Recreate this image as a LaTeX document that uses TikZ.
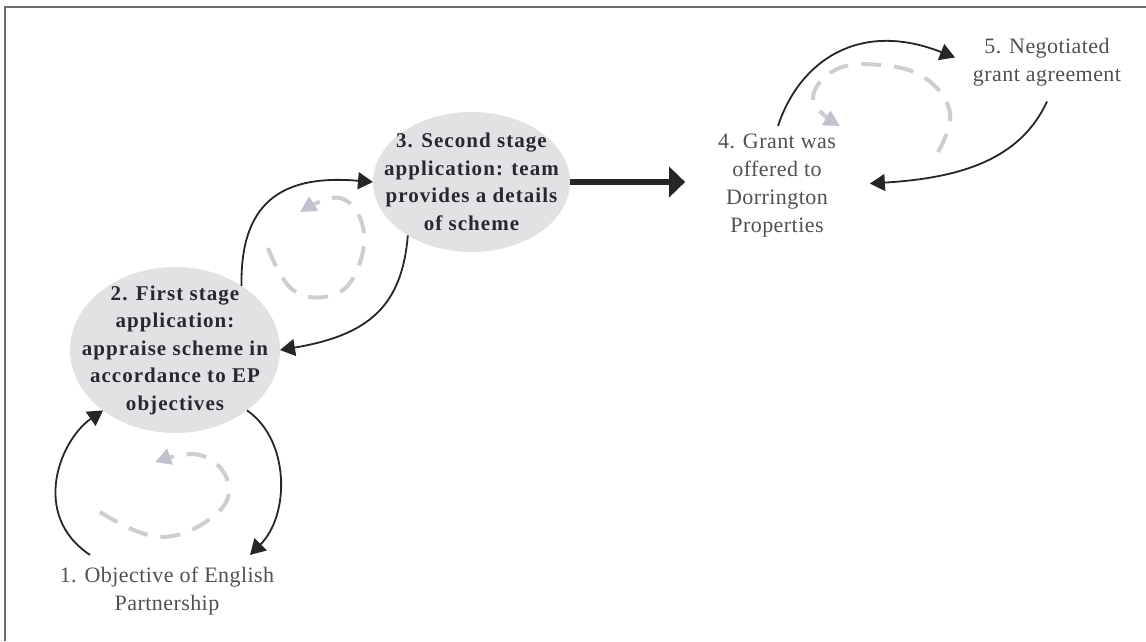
\documentclass[tikz,border=0pt]{standalone}
\usepackage{fontspec}
\setmainfont{Liberation Serif}
\newfontfamily\lblfont[LetterSpace=2]{Liberation Serif}
\newfontfamily\stagefont[LetterSpace=5]{Liberation Serif}
\usetikzlibrary{arrows.meta,shapes.geometric,calc}

\definecolor{ellfill}{RGB}{226,226,229}
\definecolor{loopgray}{RGB}{206,206,209}
\definecolor{loophead}{RGB}{192,194,208}
\definecolor{plaintext}{RGB}{80,80,80}
\definecolor{stagetext}{RGB}{40,40,50}
\definecolor{framegray}{RGB}{110,110,110}

\begin{document}
\begin{tikzpicture}[x=1pt,y=-1pt,
  stage/.style={ellipse, fill=ellfill, inner sep=0pt, outer sep=0pt},
  stagelabel/.style={inner sep=0pt, outer sep=0pt, align=center, text=stagetext,
    font=\stagefont\bfseries\fontsize{21}{27.5}\selectfont},
  plain/.style={inner sep=0pt, outer sep=0pt, align=center, text=plaintext,
    font=\lblfont\fontsize{22}{28}\selectfont},
  flow/.style={draw=black!85, line width=1.8pt, -{Triangle[length=15pt,width=17pt]}},
  back/.style={draw=loopgray, line width=4pt, dash pattern=on 20pt off 13pt,
    -{Triangle[length=16pt,width=16pt,color=loophead,fill=loophead]}},
  bigflow/.style={draw=black!85, line width=6pt, -{Triangle[length=16pt,width=30pt]}}
]
\useasboundingbox (0,0) rectangle (1146,641);

% frame
\draw[framegray, line width=2pt] (5,641) -- (5,7) -- (1146,7);

% stages
\node[stage, minimum width=210pt, minimum height=166pt] (n2) at (175,350) {};
\node[stagelabel] (n2t) at (n2) {2. First stage\\application:\\appraise scheme in\\accordance to EP\\objectives};
\node[stage, minimum width=197pt, minimum height=140pt] (n3) at (471.5,182) {};
\node[stagelabel] (n3t) at (n3) {3. Second stage\\application: team\\provides a details\\of scheme};

\node[plain] (n1) at (167,591) {1. Objective of English\\Partnership};
\node[plain] (n4) at (777,185.5) {4. Grant was\\offered to\\Dorrington\\Properties};
\node[plain] (n5) at (1047,62.5) {5. Negotiated\\grant agreement};

% forward and return arcs
\draw[flow] ($(n1.north)+(-77,-12)$) .. controls (30,515) and (60,440) .. (n2.220);
\draw[flow] (n2.320) .. controls (290,440) and (290,515) .. ($(n1.north)+(83,-12)$);
\draw[flow] (n2.44) .. controls (240,195) and (290,175) .. (n3.west);
\draw[flow] (n3.220) .. controls (402,305) and (370,335) .. (n2.east);
\draw[bigflow] (n3.east) -- ($(n3.east -| n4.west)+(-33,0)$);
\draw[flow] ($(n4.north)+(1,-8)$) .. controls (800,60) and (860,20) .. ($(n5.west)+(-18,-5)$);
\draw[flow] ($(n5.south)+(0,15)$) .. controls (1020,160) and (960,178) .. ($(n4.east)+(34,-2)$);

% feedback loops
\draw[back] plot[smooth, tension=0.7] coordinates {(100,512) (160,537) (215,515) (228,482) (200,455) (155,462)};
\draw[back] plot[smooth, tension=0.7] coordinates {(268,248) (293,290) (333,295) (357,270) (363,227) (340,198) (300,212)};
\draw[back] plot[smooth, tension=0.7] coordinates {(938,152) (950,113) (925,78) (880,65) (835,70) (813,100) (840,126)};
\end{tikzpicture}
\end{document}
